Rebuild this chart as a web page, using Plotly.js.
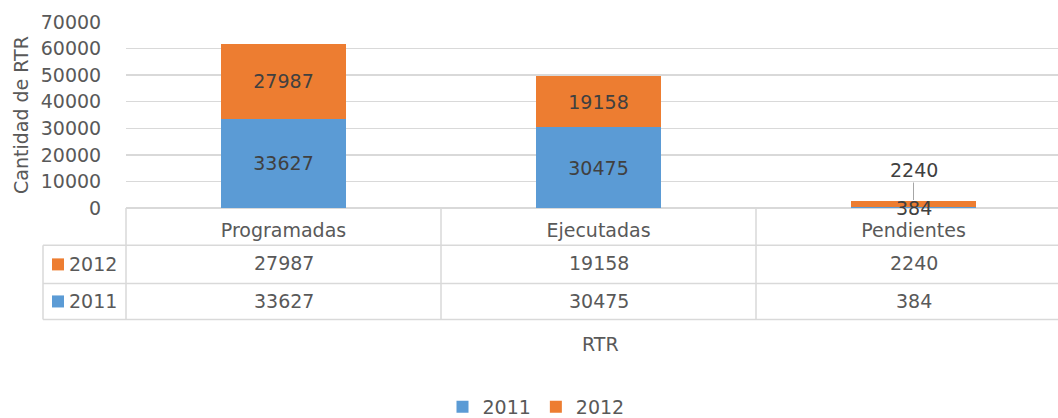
<!DOCTYPE html>
<html>
<head>
<meta charset="utf-8">
<script src="https://cdn.plot.ly/plotly-3.0.1.min.js"></script>
<style>html,body{margin:0;padding:0;background:#fff}#chart{width:1058px;height:418px}</style>
</head>
<body>
<div id="chart"></div>
<script>
// ---- data ----
const categories = ["Programadas", "Ejecutadas", "Pendientes"];
const seriesNames = ["2011", "2012"];
const values2011 = [33627, 30475, 384];
const values2012 = [27987, 19158, 2240];
const yTickValues = [0, 10000, 20000, 30000, 40000, 50000, 60000, 70000];
const yAxisTitle = "Cantidad de RTR";
const xAxisTitle = "RTR";

// ---- layout geometry (pixels) ----
const W = 1058, Hh = 418;
const L = 126, T = 22, PW = 932, PH = 185.7;
const B = Hh - T - PH;
const px2x = p => (p - L) / PW;
const py2y = p => (T + PH - p) / PH;
const catSpacing = 315;

const blue = "#5B9BD5", orange = "#ED7D31";
const gray = "#595959", lineC = "#D9D9D9";
const FONT = "DejaVu Sans";
const FS = 19;

const traces = [
  {
    type: "bar", name: seriesNames[0], x: categories, y: values2011,
    marker: {color: blue}, width: 0.394,
    text: values2011.map(String),
    textposition: values2011.map((v, i) => i < 2 ? "inside" : "none"),
    insidetextanchor: "middle",
    textfont: {family: FONT, size: FS, color: "#404040"},
    hoverinfo: "x+y+name"
  },
  {
    type: "bar", name: seriesNames[1], x: categories, y: values2012,
    marker: {color: orange}, width: 0.394,
    text: values2012.map(String),
    textposition: values2012.map((v, i) => i < 2 ? "inside" : "none"),
    insidetextanchor: "middle",
    textfont: {family: FONT, size: FS, color: "#404040"},
    hoverinfo: "x+y+name"
  }
];

const shapes = [];
const ln = (x0, y0, x1, y1, xref) => shapes.push({
  type: "line", xref: xref || "paper", yref: "paper",
  x0, y0, x1, y1, line: {color: lineC, width: 1.5}
});
const yH = py2y(245), yR = py2y(283), yBot = py2y(319);
// table horizontals
[yH, yR, yBot].forEach(y => ln(px2x(43), y, 1, y));
// table verticals
ln(0, 0, 0, yBot);
ln(px2x(43), yH, px2x(43), yBot);
for (let i = 0; i < categories.length - 1; i++) ln(i + 0.5, 0, i + 0.5, yBot, "x");
// legend keys in table
const sq = (py, color) => shapes.push({
  type: "rect", xref: "paper", yref: "paper",
  x0: px2x(52), x1: px2x(64), y0: py2y(py + 6), y1: py2y(py - 6),
  fillcolor: color, line: {width: 0}
});
sq(264, orange);
sq(301, blue);

const annotations = [];
const txt = (o) => annotations.push(Object.assign({
  showarrow: false, font: {family: FONT, size: FS, color: gray}
}, o));
// table row labels
txt({xref: "paper", yref: "paper", x: px2x(119), xanchor: "right", y: py2y(264), yanchor: "middle", text: seriesNames[1]});
txt({xref: "paper", yref: "paper", x: px2x(119), xanchor: "right", y: py2y(301), yanchor: "middle", text: seriesNames[0]});
// table values
categories.forEach((c, i) => {
  txt({xref: "x", yref: "paper", x: c, y: py2y(263), yanchor: "middle", text: String(values2012[i])});
  txt({xref: "x", yref: "paper", x: c, y: py2y(301), yanchor: "middle", text: String(values2011[i])});
});
// small-bar labels (Pendientes)
const k = categories.length - 1;
annotations.push({
  xref: "x", yref: "y", x: categories[k], y: values2011[k] + values2012[k],
  text: String(values2012[k]), showarrow: true, arrowhead: 0, arrowwidth: 1,
  arrowcolor: "#A6A6A6", ax: 0, ay: -31, standoff: 1,
  font: {family: FONT, size: FS, color: "#404040"}
});
annotations.push({
  xref: "x", yref: "y", x: categories[k], y: 0, yanchor: "middle",
  text: String(values2011[k]), showarrow: false,
  font: {family: FONT, size: FS, color: "#404040"}
});
// axis titles
txt({xref: "paper", yref: "paper", x: px2x(600), y: py2y(343), yanchor: "middle", text: xAxisTitle});
txt({xref: "paper", yref: "paper", x: px2x(21), xanchor: "center", y: 0.5, yanchor: "middle", textangle: -90, text: yAxisTitle});

const layout = {
  width: W, height: Hh,
  margin: {l: L, r: 0, t: T, b: B, pad: 0, autoexpand: false},
  paper_bgcolor: "#fff", plot_bgcolor: "#fff",
  barmode: "stack",
  font: {family: FONT, size: FS, color: gray},
  showlegend: true,
  legend: {
    orientation: "h", traceorder: "normal",
    xref: "container", yref: "container",
    x: 536 / W, xanchor: "center",
    y: (Hh - 388) / Hh, yanchor: "top",
    font: {family: FONT, size: FS, color: gray},
    itemclick: false
  },
  xaxis: {
    type: "category", categoryorder: "array", categoryarray: categories,
    range: [-0.5, -0.5 + PW / catSpacing],
    showgrid: false, zeroline: false, showline: false,
    ticks: "outside", ticklen: 5, tickcolor: "rgba(0,0,0,0)",
    tickfont: {family: FONT, size: FS, color: gray}
  },
  yaxis: {
    range: [0, 70000], tickvals: yTickValues, ticktext: yTickValues.map(String),
    showgrid: true, gridcolor: lineC, gridwidth: 1.5,
    zeroline: true, zerolinecolor: lineC, zerolinewidth: 1.5,
    showline: false,
    ticks: "outside", ticklen: 20, tickcolor: "rgba(0,0,0,0)",
    tickfont: {family: FONT, size: FS, color: gray}
  },
  shapes, annotations
};

Plotly.newPlot("chart", traces, layout, {displayModeBar: false, staticPlot: true});
</script>
</body>
</html>
